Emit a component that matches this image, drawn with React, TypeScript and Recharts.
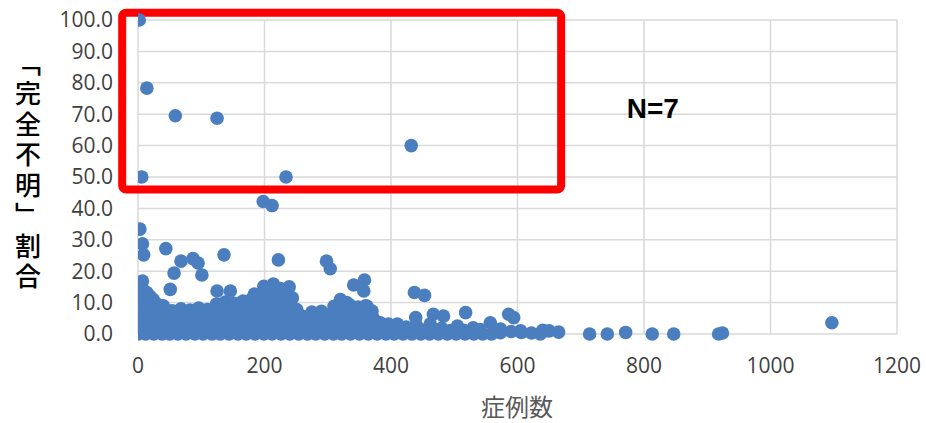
import React from 'react';
import { ScatterChart, Scatter, XAxis, YAxis, CartesianGrid, ReferenceArea, ReferenceDot, Label } from 'recharts';

// [症例数, 「完全不明」割合]
const highRatePoints: [number, number][] = [
  [2, 100], [14, 78.3], [59, 69.5], [125, 68.7], [432, 60], [6, 50], [234, 50],
];

const midRatePoints: [number, number][] = [
  [198, 42.2], [212, 40.9], [3, 33.4], [7, 28.7], [9, 25.2], [44, 27.2], [68, 23.2],
  [87, 24], [95, 22.6], [57, 19.4], [101, 18.8], [136, 25.2], [222, 23.6], [298, 23.2],
  [304, 20.8], [358, 17.2], [341, 15.6], [214, 15.9], [239, 15], [7, 16.9], [199, 15.2],
];

const bumpPoints: [number, number][] = [
  [5, 14.5], [14, 13.2], [19, 12], [24, 11], [8, 10.5], [11, 8], [3, 12], [4, 9], [6, 15],
  [51, 14.2], [125, 13.7], [146, 13.7], [184, 12.7], [190, 12], [206, 14], [225, 14.5],
  [320, 11], [330, 10], [357, 13.7], [360, 9], [437, 13.2], [453, 12.3], [1097, 3.6],
  [383, 3.6], [396, 3.2], [410, 3.2], [467, 6.3], [483, 5.7], [518, 6.8], [586, 6.3],
  [594, 5.2], [557, 3.6], [439, 5.2], [462, 3.2], [505, 2.5], [530, 2], [2, 6], [3, 3],
  [16, 10], [30, 9.5], [40, 9], [275, 7], [290, 7.2],
];

const upperBlobPoints: [number, number][] = [
  [12, 8], [26, 7.8], [40, 8.2], [54, 7.4], [68, 8], [82, 7.6], [96, 8.3], [110, 7.8],
  [124, 9.5], [138, 10.2], [152, 9.8], [166, 10.5], [180, 11.2], [194, 11.8], [206, 12.6],
  [220, 12.2], [232, 13], [244, 11.5], [258, 5.8], [272, 6], [286, 5.6], [300, 6.2],
  [310, 8.8], [322, 10.2], [334, 9.4], [348, 8.6], [362, 8.8], [370, 7.3],
  [130, 7.8], [145, 8], [160, 8.2], [175, 8.5], [190, 8.4], [205, 8.8], [220, 9], [236, 8.6],
  [186, 10], [200, 10.5], [214, 10.2], [228, 10.8], [240, 9.6], [316, 7.5], [340, 7], [355, 7.4],
];

const middleBlobPoints: [number, number][] = [
  [8, 5.5], [22, 6], [36, 5], [50, 6.2], [64, 5.4], [78, 6.4], [92, 5.2], [106, 6],
  [120, 5.6], [134, 6.3], [148, 5], [162, 5.8], [176, 6.5], [190, 5.3], [204, 6.1],
  [218, 5.5], [232, 6.4], [246, 5.1], [260, 5], [274, 5.4], [288, 4.8], [302, 5.7],
  [316, 5.2], [330, 6], [344, 5.5], [358, 6.3], [372, 5],
  [15, 4.3], [29, 4.5], [43, 4], [57, 4.4], [71, 4.1], [85, 4.6], [99, 4.2], [113, 4.5],
  [127, 4], [141, 4.6], [155, 4.2], [169, 4.4], [183, 4], [197, 4.6], [211, 4.1],
  [225, 4.5], [239, 4], [253, 4.4], [267, 4.2], [281, 4.5], [295, 4], [309, 4.4],
  [323, 4.1], [337, 4.5], [351, 4], [365, 4.3], [19, 7], [33, 7.2], [47, 6.8], [61, 7],
  [75, 6.9], [89, 7.1], [103, 6.9], [117, 7.2], [141, 7.6], [155, 7.3], [169, 7.6],
  [183, 7.3], [197, 7.6], [211, 7.4], [225, 7.6], [239, 7.2], [251, 7.8], [323, 7.8],
];

const lowerBlobPoints: [number, number][] = [
  [4, 3], [18, 2.5], [32, 3.5], [46, 2], [60, 3.8], [74, 2.4], [88, 3.2], [102, 2.8],
  [116, 3.6], [130, 2.2], [144, 3.4], [158, 2.6], [172, 3.9], [186, 2.3], [200, 3.1],
  [214, 2.7], [228, 3.7], [242, 2.1], [256, 3.3], [270, 2.9], [284, 3.5], [298, 2.4],
  [312, 3.2], [326, 2.6], [340, 3.8], [354, 2.2], [368, 3.4], [424, 2.2], [440, 2.8],
  [480, 1.8], [573, 1.6], [605, 1], [640, 1.2],
  [10, 1.4], [24, 1.2], [38, 1.5], [52, 1.1], [66, 1.4], [80, 1.2], [94, 1.5], [108, 1.1],
  [122, 1.4], [136, 1.2], [150, 1.5], [164, 1.1], [178, 1.4], [192, 1.2], [206, 1.5],
  [220, 1.1], [234, 1.4], [248, 1.2], [262, 1.5], [276, 1.1], [290, 1.4], [304, 1.2],
  [318, 1.5], [332, 1.1], [346, 1.4], [360, 1.2], [374, 1.5], [388, 1.1], [402, 1.4],
  [416, 1], [430, 1.3], [452, 1.2], [470, 1.4], [494, 1.1], [515, 1.2], [541, 1.4],
  [382, 2.4], [398, 2.2], [412, 2.5],
];

const zeroRatePoints: [number, number][] = [
  [0, 0], [12, 0], [25, 0], [38, 0], [50, 0], [63, 0], [76, 0], [90, 0], [103, 0],
  [117, 0], [130, 0], [144, 0], [158, 0], [171, 0], [185, 0], [199, 0], [212, 0],
  [226, 0], [240, 0], [254, 0], [268, 0], [281, 0], [295, 0], [309, 0], [322, 0],
  [336, 0], [350, 0], [364, 0], [378, 0], [392, 0], [405, 0], [419, 0], [433, 0],
  [447, 0], [461, 0], [475, 0], [489, 0], [503, 0], [517, 0], [531, 0], [545, 0],
  [559, 0], [573, 0.4], [590, 0.8], [606, 0.5], [622, 0.3], [636, 0], [650, 1],
  [665, 0.6], [714, 0], [742, 0], [771, 0.5], [813, 0], [847, 0], [918, 0], [924, 0.3],
];

const xTicks = [0, 200, 400, 600, 800, 1000, 1200];
const yTicks = [0, 10, 20, 30, 40, 50, 60, 70, 80, 90, 100];

const highlightBox = { x1: -25, x2: 669, y1: 46, y2: 102.3 };
const nLabel = { x: 814, y: 72, text: 'N=7' };

const xTitle = '症例数';
const yTitle = '「完全不明」割合';

const data = [
  ...zeroRatePoints, ...lowerBlobPoints, ...middleBlobPoints, ...upperBlobPoints,
  ...bumpPoints, ...midRatePoints, ...highRatePoints,
].map(([cases, rate]) => ({ cases, rate }));

const DOT = '#4a7ebf';

const Dot = (props: any) => <circle cx={props.cx} cy={props.cy} r={6.8} fill={DOT} />;

export default function App() {
  return (
    <div style={{ position: 'absolute', left: 0, top: 0, width: 926, height: 423, background: '#fff' }}>
      <ScatterChart width={926} height={423} margin={{ top: 20, right: 29, bottom: 30, left: 0 }}>
        <CartesianGrid stroke="#d9d9d9" strokeWidth={1.5} />
        <XAxis
          type="number"
          dataKey="cases"
          domain={[0, 1200]}
          ticks={xTicks}
          axisLine={false}
          tickLine={false}
          tickSize={0}
          tickMargin={24}
          height={59}
          tick={{ fill: '#404040', fontSize: 21, fontFamily: 'Open Sans, sans-serif' }}
          allowDataOverflow
        >
          <Label
            content={() => (
              <text x={517} y={416} textAnchor="middle" fill="#595959" fontSize={24}
                fontFamily="'Noto Sans CJK JP', sans-serif">
                {xTitle}
              </text>
            )}
          />
        </XAxis>
        <YAxis
          type="number"
          dataKey="rate"
          domain={[0, 100]}
          ticks={yTicks}
          axisLine={false}
          tickLine={false}
          tickSize={0}
          tickMargin={25}
          width={138}
          tickFormatter={(v: number) => v.toFixed(1)}
          tick={{ fill: '#404040', fontSize: 21, fontFamily: 'Open Sans, sans-serif' }}
        >
          <Label
            content={() => (
              <text x={28} y={50} fill="#000" fontSize={26} fontWeight={500}
                fontFamily="'Noto Sans CJK JP', sans-serif"
                style={{ writingMode: 'vertical-rl' as any, letterSpacing: 4.5 }}>
                {yTitle}
              </text>
            )}
          />
        </YAxis>
        <Scatter data={data} isAnimationActive={false} shape={Dot} />
        <ReferenceArea
          x1={highlightBox.x1}
          x2={highlightBox.x2}
          y1={highlightBox.y1}
          y2={highlightBox.y2}
          ifOverflow="visible"
          fill="none"
          fillOpacity={0}
          stroke="#ff0000"
          strokeWidth={8}
          radius={4}
        />
        <ReferenceDot
          x={nLabel.x}
          y={nLabel.y}
          r={0}
          ifOverflow="visible"
          fill="none"
          stroke="none"
          label={{ value: nLabel.text, position: 'center', fill: '#000', fontSize: 28, fontWeight: 700, fontFamily: 'Liberation Sans, Arial, sans-serif' }}
        />
      </ScatterChart>
    </div>
  );
}
